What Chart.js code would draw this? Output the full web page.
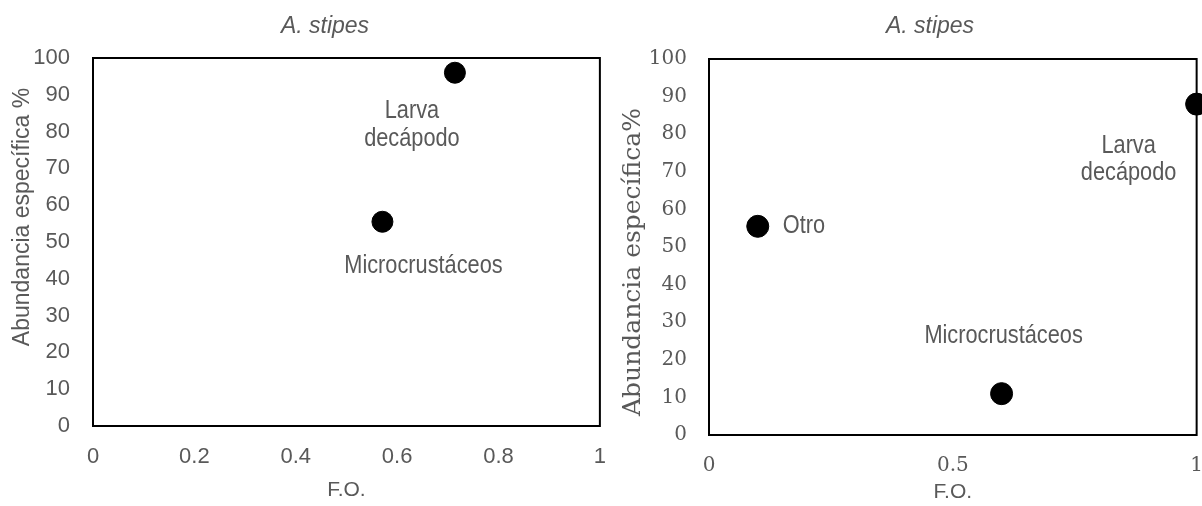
<!DOCTYPE html>
<html>
<head>
<meta charset="utf-8">
<script src="https://cdn.jsdelivr.net/npm/chart.js@4/dist/chart.umd.min.js"></script>
<style>
    html, body { margin: 0; padding: 0; background: #fff; }
    #wrap { position: relative; width: 1202px; height: 506px; overflow: hidden; }
    canvas { position: absolute; top: 0; }
    #chartA { left: 0; }
    #chartB { left: 600px; }
</style>
</head>
<body>
<div id="wrap">
    <canvas id="chartA" width="624" height="506"></canvas>
    <canvas id="chartB" width="622" height="506"></canvas>
</div>
<script>
/* ================= DATA ================= */
const titleText = "A. stipes";
const xTitle = "F.O.";

// left panel
const catsA = [["Larva", "decápodo"], ["Microcrustáceos"]];
const foA = [0.714, 0.571];
const abundA = [96, 55.5];
const xTicksA = ["0", "0.2", "0.4", "0.6", "0.8", "1"];
const yTicksA = ["0", "10", "20", "30", "40", "50", "60", "70", "80", "90", "100"];
const yTitleA = "Abundancia específica %";

// right panel
const catsB = [["Otro"], ["Microcrustáceos"], ["Larva", "decápodo"]];
const foB = [0.1, 0.6, 1];
const abundB = [55.5, 11, 88];
const xTicksB = ["0", "0.5", "1"];
const yTicksB = ["0", "10", "20", "30", "40", "50", "60", "70", "80", "90", "100"];
const yTitleB = "Abundancia específica%";

const grey = "#595959";

/* ================= HELPERS ================= */
function decor(opt) {
    return {
        id: "decor",
        beforeDatasetsDraw(chart) {
            const a = chart.chartArea;
            const ctx = chart.ctx;
            ctx.save();
            ctx.strokeStyle = "#000";
            ctx.lineWidth = 2;
            ctx.strokeRect(a.left, a.top, a.right - a.left, a.bottom - a.top);
            ctx.restore();
        },
        afterDraw(chart) {
            const ctx = chart.ctx;
            const xs = chart.scales.x, ys = chart.scales.y;
            ctx.save();
            ctx.fillStyle = grey;
            ctx.textBaseline = "middle";

            // chart title
            ctx.font = "italic 23px 'Liberation Sans'";
            ctx.textAlign = "center";
            ctx.fillText(titleText, opt.titleX, opt.titleY);

            // y axis title
            ctx.save();
            ctx.translate(opt.yTitleX, opt.yTitleY);
            ctx.rotate(-Math.PI / 2);
            ctx.font = opt.yTitleFont;
            ctx.fillText(opt.yTitle, 0, 0);
            ctx.restore();

            // point labels (narrow look: squeeze horizontally)
            ctx.font = "25px 'Liberation Sans'";
            opt.cats.forEach((lines, i) => {
                const px = xs.getPixelForValue(opt.fo[i]);
                const py = ys.getPixelForValue(opt.abund[i]);
                const o = opt.offsets[i];
                ctx.textAlign = o.align || "center";
                lines.forEach((t, j) => {
                    ctx.save();
                    ctx.translate(px + o.dx, py + o.dy + j * opt.lineGap);
                    ctx.scale(0.87, 1);
                    ctx.fillText(t, 0, 0);
                    ctx.restore();
                });
            });
            ctx.restore();
        }
    };
}

function makeChart(id, o) {
    return new Chart(document.getElementById(id), {
        type: "scatter",
        data: {
            datasets: [{
                data: o.fo.map((v, i) => ({ x: v, y: o.abund[i] })),
                backgroundColor: "#000",
                borderColor: "#000",
                pointRadius: o.radius,
                pointHoverRadius: o.radius,
                clip: false
            }]
        },
        options: {
            responsive: false,
            animation: false,
            events: [],
            layout: { padding: o.padding },
            plugins: { legend: { display: false }, tooltip: { enabled: false } },
            scales: {
                x: {
                    type: "linear",
                    min: 0, max: 1,
                    afterFit: s => { s.height = o.xHeight; },
                    afterBuildTicks: s => { s.ticks = o.xTicks.map(t => ({ value: Number(t) })); },
                    grid: { display: false, drawTicks: false },
                    border: { display: false },
                    ticks: {
                        color: grey,
                        font: o.tickFont,
                        padding: o.xTickPad,
                        maxRotation: 0,
                        callback: (v, i) => o.xTicks[i]
                    },
                    title: {
                        display: true,
                        text: xTitle,
                        color: grey,
                        font: { family: "Liberation Sans", size: 21 },
                        padding: { top: 0, bottom: o.xTitlePad }
                    }
                },
                y: {
                    min: 0, max: 100,
                    afterFit: s => { s.width = o.yWidth; },
                    afterBuildTicks: s => { s.ticks = o.yTicks.map(t => ({ value: Number(t) })); },
                    grid: { display: false, drawTicks: false },
                    border: { display: false },
                    ticks: {
                        color: grey,
                        font: o.tickFont,
                        padding: o.yTickPad,
                        callback: (v, i) => o.yTicks[i]
                    }
                }
            }
        },
        plugins: [decor(o)]
    });
}

/* ================= CHARTS ================= */
function drawAll() {
    makeChart("chartA", {
        fo: foA, abund: abundA, cats: catsA,
        xTicks: xTicksA, yTicks: yTicksA,
        yTitle: yTitleA,
        yTitleFont: "23px 'Liberation Sans'",
        yTitleX: 23, yTitleY: 217,
        titleX: 325, titleY: 27,
        radius: 10.5,
        tickFont: { family: "Liberation Sans", size: 22 },
        padding: { left: 0, right: 0, top: 58, bottom: 0 },
        xHeight: 80, yWidth: 93,
        xTickPad: 18, yTickPad: 23, xTitlePad: 3,
        lineGap: 28,
        offsets: [
            { dx: -43, dy: 38 },
            { dx: 41, dy: 44 }
        ]
    });

    makeChart("chartB", {
        fo: foB, abund: abundB, cats: catsB,
        xTicks: xTicksB, yTicks: yTicksB,
        yTitle: yTitleB,
        yTitleFont: "25px 'DejaVu Serif'",
        yTitleX: 33, yTitleY: 262,
        titleX: 330, titleY: 27,
        radius: 11,
        tickFont: { family: "DejaVu Serif", size: 20 },
        padding: { left: 0, right: 0, top: 59, bottom: 0 },
        xHeight: 71, yWidth: 109,
        xTickPad: 19, yTickPad: 22, xTitlePad: 1,
        lineGap: 27,
        offsets: [
            { dx: 25, dy: 0, align: "left" },
            { dx: 2, dy: -58 },
            { dx: -68, dy: 42 }
        ]
    });
}

Promise.all([
    document.fonts.load("20px 'DejaVu Serif'"),
    document.fonts.load("22px 'Liberation Sans'"),
    document.fonts.load("italic 23px 'Liberation Sans'")
]).then(drawAll, drawAll);
</script>
</body>
</html>
